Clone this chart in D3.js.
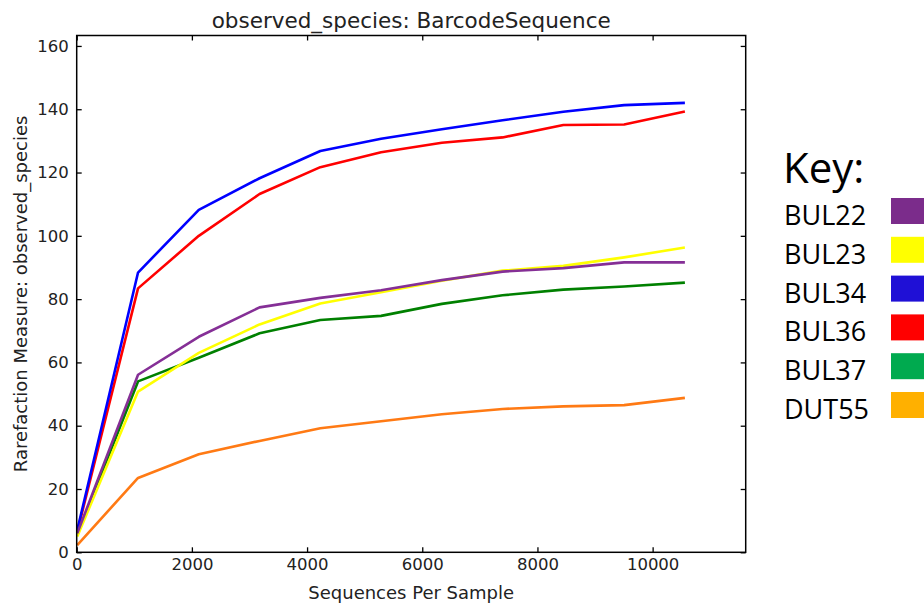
<!DOCTYPE html>
<html>
<head>
<meta charset="utf-8">
<script src="https://cdn.jsdelivr.net/npm/d3@7"></script>
<style>
  body { margin: 0; background: #fff; }
  svg text { font-family: "DejaVu Sans", sans-serif; }
</style>
</head>
<body>
<div id="plot"></div>
<script>
// Width and height
const w = 924;
const h = 610;
const margin = {top: 35.5, right: 178.3, bottom: 57.7, left: 76.7};
const innerWidth = w - margin.left - margin.right;
const innerHeight = h - margin.top - margin.bottom;

// data
const seqs = [10, 1065, 2120, 3175, 4230, 5285, 6340, 7395, 8450, 9505, 10560];
const samples = ["BUL22", "BUL23", "BUL34", "BUL36", "BUL37", "DUT55"];
const bul22 = [6, 56.1, 68.1, 77.4, 80.4, 82.8, 86.0, 88.7, 89.8, 91.6, 91.6];
const bul23 = [5, 50.8, 63.0, 72.0, 78.6, 82.2, 85.8, 89.0, 90.5, 93.2, 96.3];
const bul34 = [7, 88.4, 108.2, 118.2, 126.8, 130.7, 133.7, 136.5, 139.2, 141.3, 142.0];
const bul36 = [6.5, 83.4, 100.0, 113.2, 121.7, 126.4, 129.4, 131.1, 135.0, 135.2, 139.3];
const bul37 = [5.5, 54.0, 61.5, 69.2, 73.4, 74.7, 78.5, 81.2, 83.0, 84.0, 85.2];
const dut55 = [2.3, 23.5, 31.0, 35.2, 39.2, 41.4, 43.6, 45.3, 46.1, 46.5, 48.8];
const xTicks = [0, 2000, 4000, 6000, 8000, 10000];
const yTicks = [0, 20, 40, 60, 80, 100, 120, 140, 160];

const values = {BUL22: bul22, BUL23: bul23, BUL34: bul34, BUL36: bul36, BUL37: bul37, DUT55: dut55};
const lineColor = {BUL22: "#852f96", BUL23: "#ffff00", BUL34: "#0000ff", BUL36: "#ff0000", BUL37: "#008000", DUT55: "#ff7a14"};
const keyColor = {BUL22: "#7b2c8b", BUL23: "#ffff00", BUL34: "#1f10d6", BUL36: "#ff0000", BUL37: "#00aa4f", DUT55: "#ffb000"};
const drawOrder = ["DUT55", "BUL37", "BUL23", "BUL36", "BUL34", "BUL22"];

const svg = d3.select("div#plot")
  .append("svg")
    .attr("width", w)
    .attr("height", h);

svg.append("rect")
  .attr("width", w)
  .attr("height", h)
  .attr("fill", "#ffffff");

const plot = svg.append("g")
  .attr("id", "plot")
  .attr("transform", `translate (${margin.left}, ${margin.top})`);

const xScale = d3.scaleLinear()
  .domain([0, 11616])
  .range([0, innerWidth]);

const yScale = d3.scaleLinear()
  .domain([0, 163.3])
  .range([innerHeight, 0]);

// lines
const line = d3.line()
  .x((d, i) => xScale(seqs[i]))
  .y(d => yScale(d));

plot.selectAll("path.series")
  .data(drawOrder)
  .enter()
  .append("path")
    .attr("class", "series")
    .attr("d", d => line(values[d]))
    .attr("fill", "none")
    .attr("stroke", d => lineColor[d])
    .attr("stroke-width", 2.6)
    .attr("stroke-linejoin", "round");

// axes, ticks pointing inward (matplotlib classic)
const styleAxis = g => {
  g.select(".domain").remove();
  g.selectAll(".tick line").attr("stroke", "#000").attr("stroke-width", 1.3);
  g.selectAll(".tick text").attr("fill", "#222").style("font-size", "16.5px");
};
// top / right axes only carry tick marks
const ticksOnly = g => {
  g.select(".domain").remove();
  g.selectAll(".tick text").remove();
  g.selectAll(".tick line").attr("stroke", "#000").attr("stroke-width", 1.3);
};

plot.append("g")
  .attr("id", "xaxis")
  .attr("transform", `translate (0, ${innerHeight})`)
  .call(d3.axisBottom(xScale).tickValues(xTicks).tickSize(-5).tickPadding(6).tickFormat(d3.format("d")))
  .call(styleAxis);

plot.append("g")
  .call(d3.axisTop(xScale).tickValues(xTicks).tickSize(-5))
  .call(ticksOnly);

plot.append("g")
  .attr("id", "yaxis")
  .call(d3.axisLeft(yScale).tickValues(yTicks).tickSize(-5).tickPadding(8))
  .call(styleAxis);

plot.append("g")
  .attr("transform", `translate (${innerWidth}, 0)`)
  .call(d3.axisRight(yScale).tickValues(yTicks).tickSize(-5))
  .call(ticksOnly);

// frame
plot.append("rect")
  .attr("width", innerWidth)
  .attr("height", innerHeight)
  .attr("fill", "none")
  .attr("stroke", "#000")
  .attr("stroke-width", 1.5);

// title and axis labels
svg.append("text")
  .attr("x", margin.left + innerWidth / 2)
  .attr("y", 28)
  .attr("text-anchor", "middle")
  .attr("fill", "#222")
  .style("font-size", "21.5px")
  .text("observed_species: BarcodeSequence");

svg.append("text")
  .attr("x", margin.left + innerWidth / 2)
  .attr("y", 599)
  .attr("text-anchor", "middle")
  .attr("fill", "#222")
  .style("font-size", "18px")
  .text("Sequences Per Sample");

svg.append("text")
  .attr("transform", "rotate(-90)")
  .attr("x", -(margin.top + innerHeight / 2))
  .attr("y", 27)
  .attr("text-anchor", "middle")
  .attr("fill", "#222")
  .style("font-size", "18px")
  .text("Rarefaction Measure: observed_species");

// key
const key = svg.append("g").attr("id", "key");

key.append("text")
  .attr("x", 783)
  .attr("y", 183)
  .attr("fill", "#000")
  .style("font-family", "'Open Sans', sans-serif")
  .style("font-size", "42px")
  .text("Key:");

key.selectAll("text.lab")
  .data(samples)
  .enter()
  .append("text")
    .attr("class", "lab")
    .attr("x", 784)
    .attr("y", (d, i) => 225 + i * 38.8)
    .attr("fill", "#000")
    .style("font-family", "'Open Sans', sans-serif")
    .style("font-size", "27px")
    .text(d => d);

key.selectAll("rect")
  .data(samples)
  .enter()
  .append("rect")
    .attr("x", 891)
    .attr("y", (d, i) => 198 + i * 38.8)
    .attr("width", 40)
    .attr("height", 26)
    .attr("fill", d => keyColor[d]);
</script>
</body>
</html>
